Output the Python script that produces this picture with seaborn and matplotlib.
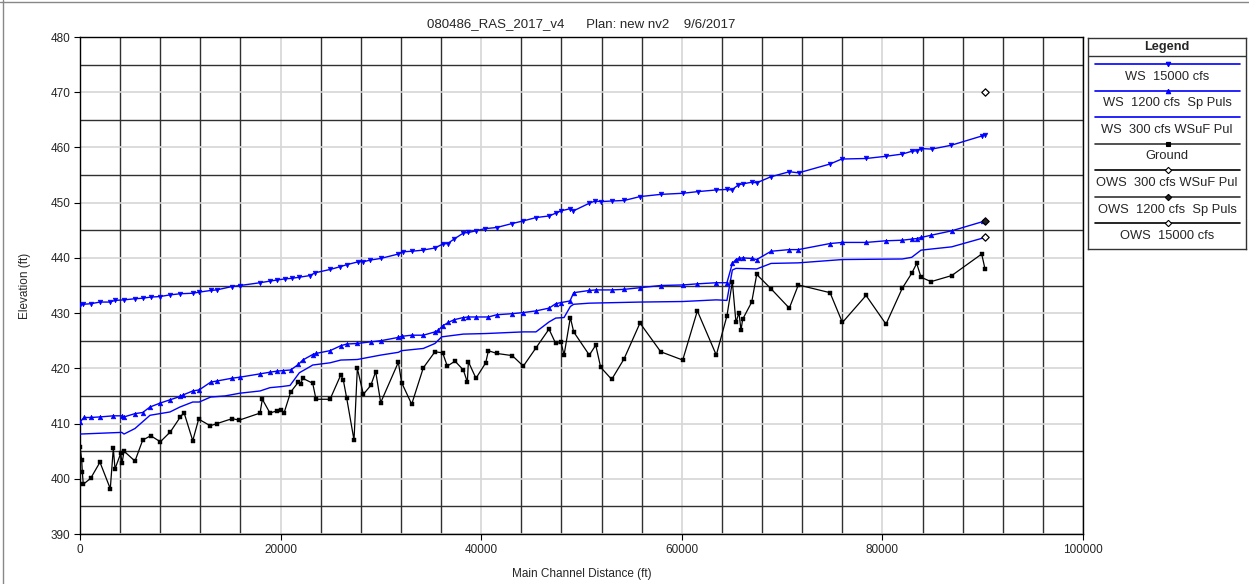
import matplotlib
matplotlib.use("Agg")
import matplotlib.pyplot as plt
import seaborn as sns
from matplotlib.ticker import MultipleLocator
from matplotlib.lines import Line2D

# ---------------- data ----------------
ground_x = [0, 170, 230, 330, 1070, 1990, 3020, 3320, 3490, 4060, 4190, 4390, 5480, 6250, 7050, 8010,
            9010, 9970, 10370, 11240, 11830, 12990, 13660, 15190, 15850, 17950, 18180, 18940, 19610,
            20010, 20340, 21000, 21770, 22000, 22200, 23200, 23530, 24930, 26000, 26250, 26590, 27320,
            27650, 28250, 28990, 29480, 29980, 31740, 32070, 33070, 34230, 35390, 36160, 36620, 37390,
            38220, 38620, 38720, 39480, 40450, 40720, 41540, 43100, 44200, 45460, 46760, 47430, 47960,
            48260, 48890, 49220, 50780, 51420, 51910, 53010, 54240, 55830, 57900, 60090, 61550, 63440,
            64500, 65040, 65400, 65700, 65900, 66070, 66970, 67470, 68900, 70720, 71620, 74780, 76010,
            78370, 80360, 81980, 82920, 83420, 83850, 84850, 86910, 89900, 90230]
ground_y = [405.8, 403.4, 401.2, 399.0, 400.1, 403.0, 398.2, 405.5, 401.8, 404.6, 402.8, 405.0, 403.2,
            407.0, 407.8, 406.7, 408.5, 411.1, 412.0, 406.9, 410.8, 409.6, 410.0, 410.9, 410.6, 411.9,
            414.4, 411.9, 412.3, 412.5, 411.9, 415.7, 417.5, 417.2, 418.2, 417.3, 414.4, 414.4, 418.8,
            417.9, 414.6, 407.0, 420.0, 415.3, 416.9, 419.4, 413.8, 421.1, 417.4, 413.5, 420.1, 423.0,
            422.8, 420.4, 421.3, 419.7, 417.5, 421.2, 418.2, 421.0, 423.2, 422.7, 422.3, 420.4, 423.7,
            427.1, 424.5, 424.7, 422.4, 429.2, 426.6, 422.4, 424.2, 420.2, 418.0, 421.7, 428.2, 423.0,
            421.5, 430.4, 422.4, 429.5, 435.7, 428.3, 430.1, 426.9, 428.9, 432.0, 437.0, 434.4, 430.9,
            435.1, 433.7, 428.3, 433.2, 428.0, 434.5, 437.2, 439.0, 436.5, 435.7, 436.8, 440.7, 438.0]

ws15000_x = [0, 330, 1070, 1990, 2990, 3490, 4390, 5480, 6250, 7050, 7980, 8970, 9970, 11240, 11890,
             13030, 13630, 15120, 15950, 17950, 18940, 19670, 20440, 21100, 21870, 22930, 23430, 24930,
             25930, 26660, 27750, 28250, 28920, 29980, 31740, 32170, 33070, 34170, 35390, 36160, 36660,
             37290, 38220, 38720, 39480, 40380, 41540, 43040, 44200, 45460, 46790, 47430, 47930, 48850,
             49180, 50780, 51350, 51950, 53010, 54270, 55830, 57900, 60090, 61590, 63410, 64480, 64980,
             65630, 66070, 66970, 67470, 68900, 70720, 71650, 74780, 75940, 78370, 80360, 81980, 82920,
             83420, 83850, 84920, 86870, 89960, 90260]
ws15000_y = [431.4, 431.6, 431.7, 432.0, 432.0, 432.3, 432.4, 432.6, 432.7, 432.9, 433.0, 433.3, 433.5,
             433.6, 433.8, 434.1, 434.2, 434.8, 435.0, 435.5, 435.8, 436.0, 436.2, 436.3, 436.5, 436.8,
             437.3, 437.9, 438.4, 438.8, 439.3, 439.3, 439.6, 439.9, 440.7, 441.1, 441.2, 441.4, 441.8,
             442.5, 442.6, 443.4, 444.5, 444.6, 444.9, 445.3, 445.5, 446.2, 446.7, 447.3, 447.6, 448.1,
             448.5, 448.9, 448.5, 449.9, 450.3, 450.2, 450.3, 450.4, 451.1, 451.5, 451.7, 452.0, 452.3,
             452.4, 452.3, 453.2, 453.4, 453.7, 453.6, 454.7, 455.6, 455.4, 457.0, 457.9, 458.0, 458.4,
             458.8, 459.3, 459.4, 459.8, 459.7, 460.4, 462.1, 462.3]

ws1200_x = [0, 400, 1070, 1990, 3320, 4160, 4390, 5480, 6250, 6980, 7980, 8970, 9970, 10300, 11240,
            11890, 13030, 13630, 15120, 15950, 17950, 18940, 19670, 20270, 21000, 21770, 22200, 23200,
            23530, 24930, 26000, 26590, 27650, 28990, 29980, 31740, 32070, 33070, 34230, 35390, 35720,
            36160, 36720, 37290, 38220, 38720, 39480, 40720, 41540, 43100, 44200, 45460, 46760, 47430,
            47930, 48850, 49220, 50780, 51420, 53010, 54240, 55830, 57900, 60090, 61550, 63440, 64500,
            65040, 65400, 65700, 66070, 66970, 67470, 68900, 70720, 71620, 74780, 76010, 78370, 80360,
            81980, 82920, 83420, 83850, 84850, 86910, 90060]
ws1200_y = [410.3, 411.1, 411.1, 411.2, 411.4, 411.4, 411.2, 411.8, 412.0, 413.0, 413.7, 414.3, 414.9,
            415.2, 415.9, 416.1, 417.5, 417.7, 418.2, 418.4, 419.0, 419.3, 419.5, 419.6, 419.7, 420.7,
            421.5, 422.5, 422.7, 423.2, 424.1, 424.4, 424.5, 424.8, 425.0, 425.6, 425.8, 426.0, 426.0,
            426.6, 426.9, 427.7, 428.3, 428.8, 429.2, 429.3, 429.3, 429.3, 429.7, 429.9, 430.1, 430.4,
            430.9, 431.7, 431.9, 432.2, 433.7, 434.1, 434.2, 434.2, 434.3, 434.6, 435.0, 435.1, 435.3,
            435.5, 435.5, 439.0, 439.7, 439.9, 440.0, 439.9, 439.7, 441.2, 441.5, 441.5, 442.6, 442.8,
            442.8, 443.1, 443.2, 443.4, 443.5, 443.7, 444.1, 444.9, 446.6]

ws300_x = [0, 4160, 4390, 5480, 6980, 7980, 8970, 9970, 11240, 11890, 13030, 14460, 15950, 17950, 18940,
           20110, 20940, 21870, 22930, 23200, 24930, 26000, 27650, 29980, 31740, 32070, 34230, 35390,
           36060, 38220, 40450, 44200, 45460, 46760, 47430, 48260, 48890, 49220, 50780, 55830, 60090,
           63440, 64500, 65040, 65400, 67470, 68900, 71620, 76010, 81980, 82920, 83850, 84850, 86910,
           90230]
ws300_y = [408.1, 408.4, 408.1, 409.1, 411.5, 411.8, 412.1, 413.0, 413.9, 413.9, 414.8, 415.0, 415.5,
           415.9, 416.5, 416.7, 416.9, 419.2, 420.3, 420.6, 421.0, 421.5, 421.6, 422.4, 422.9, 423.2,
           423.6, 424.5, 425.7, 426.2, 426.3, 426.6, 426.6, 428.4, 429.1, 429.2, 431.2, 431.6, 431.8,
           432.0, 432.1, 432.4, 432.3, 437.8, 438.1, 438.0, 439.0, 439.1, 439.7, 439.8, 440.1, 441.4,
           441.6, 442.0, 443.7]

ows_x = [90230]
ows300_y = [443.7]
ows1200_y = [446.7]
ows15000_y = [470.0]

legend_labels = ["WS  15000 cfs", "WS  1200 cfs  Sp Puls", "WS  300 cfs WSuF Pul", "Ground",
                 "OWS  300 cfs WSuF Pul", "OWS  1200 cfs  Sp Puls", "OWS  15000 cfs"]

# ---------------- style ----------------
sns.set_style("white")
plt.rcParams['font.family'] = ['Liberation Sans', 'DejaVu Sans']

W, H = 1249, 584
fig = plt.figure(figsize=(W / 100, H / 100), dpi=100)
L, R, T, B = 80, 1083, 37, 534
ax = fig.add_axes([L / W, 1 - B / H, (R - L) / W, (B - T) / H])

BLUE = '#0000ff'

sns.lineplot(x=ws300_x, y=ws300_y, ax=ax, color=BLUE, lw=1.0, estimator=None, sort=False, zorder=3)
sns.lineplot(x=ws1200_x, y=ws1200_y, ax=ax, color=BLUE, lw=1.0, marker='^', markersize=3.4,
             markeredgecolor=BLUE, markeredgewidth=0.4, estimator=None, sort=False, zorder=3)
sns.lineplot(x=ws15000_x, y=ws15000_y, ax=ax, color=BLUE, lw=1.0, marker='v', markersize=3.4,
             markeredgecolor=BLUE, markeredgewidth=0.4, estimator=None, sort=False, zorder=3)
sns.lineplot(x=ground_x, y=ground_y, ax=ax, color='black', lw=0.9, marker='s', markersize=2.7,
             markeredgecolor='black', markeredgewidth=0.3, estimator=None, sort=False, zorder=4)
sns.scatterplot(x=ows_x, y=ows300_y, ax=ax, marker='D', s=14, facecolor='white', edgecolor='black',
                linewidth=0.9, zorder=5)
sns.scatterplot(x=ows_x, y=ows1200_y, ax=ax, marker='D', s=14, color='#222222', edgecolor='black',
                linewidth=0.9, zorder=5)
sns.scatterplot(x=ows_x, y=ows15000_y, ax=ax, marker='D', s=14, facecolor='white', edgecolor='black',
                linewidth=0.9, zorder=5)

ax.set_xlim(0, 100000)
ax.set_ylim(390, 480)
ax.xaxis.set_major_locator(MultipleLocator(20000))
ax.xaxis.set_minor_locator(MultipleLocator(4000))
ax.yaxis.set_major_locator(MultipleLocator(10))
ax.yaxis.set_minor_locator(MultipleLocator(5))
ax.grid(which='major', color='#d6d6d6', lw=1.2, zorder=0)
ax.grid(which='minor', color='#303030', lw=1.0, zorder=0)
ax.set_axisbelow(True)
for s in ax.spines.values():
    s.set_color('black')
    s.set_linewidth(1.0)
ax.tick_params(which='major', direction='out', length=4, width=0.8, color='black',
               labelsize=8.5, pad=3, left=True, bottom=True)
ax.tick_params(which='minor', direction='out', length=0)
ax.set_xlabel("Main Channel Distance (ft)", fontsize=8.5, labelpad=9)
ax.set_ylabel("Elevation (ft)", fontsize=8.5, labelpad=14)
ax.set_title("080486_RAS_2017_v4      Plan: new nv2    9/6/2017", fontsize=9.5, pad=7)

# ---------------- legend box ----------------
lg_l, lg_r, lg_t, lg_b = 1088, 1246, 38, 249
lax = fig.add_axes([lg_l / W, 1 - lg_b / H, (lg_r - lg_l) / W, (lg_b - lg_t) / H])
lax.set_xlim(lg_l, lg_r)
lax.set_ylim(lg_b, lg_t)
lax.set_xticks([])
lax.set_yticks([])
for s in lax.spines.values():
    s.set_color('#333333')
    s.set_linewidth(1.0)
lax.axhline(56, color='#333333', lw=1.0)
lax.text((lg_l + lg_r) / 2, 47, "Legend", ha='center', va='center', fontsize=9.2, fontweight='bold')
styles = [
    dict(color=BLUE, marker='v', mfc=BLUE, mec=BLUE),
    dict(color=BLUE, marker='^', mfc=BLUE, mec=BLUE),
    dict(color=BLUE, marker=None, mfc=BLUE, mec=BLUE),
    dict(color='#333333', marker='s', mfc='black', mec='black'),
    dict(color='black', marker='D', mfc='white', mec='black'),
    dict(color='#333333', marker='D', mfc='#222222', mec='black'),
    dict(color='black', marker='D', mfc='white', mec='black'),
]
x0, x1 = 1095, 1240
for i, (lab, st) in enumerate(zip(legend_labels, styles)):
    yl = 64 + 26.55 * i
    lax.plot([x0, x1], [yl, yl], color=st['color'], lw=1.2)
    if st['marker']:
        lax.plot([(x0 + x1) / 2], [yl], marker=st['marker'], ms=3.2, mfc=st['mfc'], mec=st['mec'],
                 mew=0.8, lw=0)
    lax.text((lg_l + lg_r) / 2, yl + 12.8, lab, ha='center', va='center', fontsize=9.3)

# outer frame remnants
fig.add_artist(Line2D([0, 1], [1 - 1.5 / H, 1 - 1.5 / H], transform=fig.transFigure, color='#888888', lw=1))
fig.add_artist(Line2D([2.5 / W, 2.5 / W], [0, 1], transform=fig.transFigure, color='#888888', lw=1))

fig.savefig("out.png", dpi=100)
